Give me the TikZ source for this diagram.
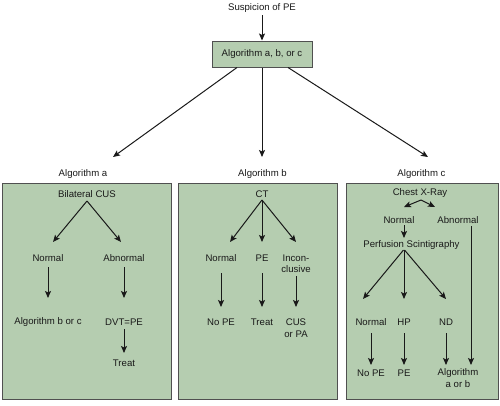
\documentclass[tikz,border=0pt]{standalone}
\usepackage{fontspec}
\setmainfont{Liberation Sans}
\usetikzlibrary{arrows.meta,calc}
\definecolor{sage}{RGB}{181,205,176}
\definecolor{edgegray}{RGB}{80,80,80}
\definecolor{ink}{RGB}{25,25,25}
\begin{document}
\begin{tikzpicture}[x=1pt,y=-1pt,
  lbl/.style={inner sep=0pt, text=ink, font=\fontsize{9.6}{11.5}\selectfont, align=center},
  arr/.style={draw=ink, line width=1pt, -{Stealth[length=7pt,width=6pt,inset=1.5pt]}},
  panel/.style={draw=edgegray, line width=1pt, fill=sage, inner sep=0pt, minimum height=216pt},
  topbox/.style={draw=edgegray, line width=1pt, fill=sage, inner sep=0pt, minimum width=100pt, minimum height=26pt, text=ink, font=\fontsize{9.6}{11.5}\selectfont}]
\useasboundingbox (0,0) rectangle (500,405);
% panels
\node[panel, minimum width=169pt] (pa) at (86.5,291) {};
\node[panel, minimum width=159pt] (pb) at (257.5,291) {};
\node[panel, minimum width=152pt] (pc) at (422,291) {};
% top
\node[lbl] (sus) at (262,8) {Suspicion of PE};
\node[topbox] (top) at (262,54) {Algorithm a, b, or c};
\node[lbl] (la) at (83,174) {Algorithm a};
\node[lbl] (lb) at (262.5,174) {Algorithm b};
\node[lbl] (lc) at (421.5,174) {Algorithm c};
\draw[arr] ($(sus)+(0,7)$) -- (top.north);
\draw[arr] ($(top.south)+(-25,0)$) -- ($(la)+(30,-17)$);
\draw[arr] (top.south) -- ($(lb)+(-0.5,-17)$);
\draw[arr] ($(top.south)+(26,0)$) -- ($(lc)+(6.5,-17)$);
% panel a
\node[lbl] (a0) at (87,194) {Bilateral CUS};
\node[lbl] (a1) at (48,258) {Normal};
\node[lbl] (a2) at (124,258) {Abnormal};
\node[lbl] (a3) at (48,322) {Algorithm b or c};
\node[lbl] (a4) at (124,322) {DVT=PE};
\node[lbl] (a5) at (124,363) {Treat};
\draw[arr] ($(a0)+(0,7)$) -- ($(a1)+(5,-16)$);
\draw[arr] ($(a0)+(0,7)$) -- ($(a2)+(-3,-16)$);
\draw[arr] ($(a1)+(0,9)$) -- ($(a3)+(0,-24)$);
\draw[arr] ($(a2)+(0,9)$) -- ($(a4)+(0,-24)$);
\draw[arr] ($(a4)+(0,7)$) -- ($(a5)+(0,-10)$);
% panel b
\node[lbl] (b0) at (262,194) {CT};
\node[lbl] (b1) at (221,258) {Normal};
\node[lbl] (b2) at (262,258) {PE};
\node[lbl] (b3) at (296,263.5) {Incon-\\clusive};
\node[lbl] (b4) at (221,322) {No PE};
\node[lbl] (b5) at (262,322) {Treat};
\node[lbl] (b6) at (296,328) {CUS\\or PA};
\draw[arr] ($(b0)+(0,6)$) -- ($(b1)+(9,-16)$);
\draw[arr] ($(b0)+(0,6)$) -- ($(b2)+(0,-16)$);
\draw[arr] ($(b0)+(0,6)$) -- ($(b3)+(0,-21.5)$);
\draw[arr] ($(b1)+(0,15)$) -- ($(b4)+(0,-15)$);
\draw[arr] ($(b2)+(0,15)$) -- ($(b5)+(0,-15)$);
\draw[arr] ($(b3)+(0,12.5)$) -- ($(b6)+(0,-21)$);
% panel c
\node[lbl] (c0) at (420,193) {Chest X-Ray};
\node[lbl] (c1) at (399,220) {Normal};
\node[lbl] (c2) at (458,220) {Abnormal};
\node[lbl] (c3) at (411.5,245) {Perfusion Scintigraphy};
\node[lbl] (c4) at (371,322) {Normal};
\node[lbl] (c5) at (404,322) {HP};
\node[lbl] (c6) at (446,322) {ND};
\node[lbl] (c7) at (371,373) {No PE};
\node[lbl] (c8) at (404,373) {PE};
\node[lbl] (c9) at (458,378) {Algorithm\\a or b};
\draw[arr] ($(c0)+(1,7)$) -- ($(c1)+(5,-13)$);
\draw[arr] ($(c0)+(1,7)$) -- ($(c2)+(-23,-13)$);
\draw[arr] ($(c1)+(5,5)$) -- ($(c3)+(-7.5,-7)$);
\draw[arr] ($(c3)+(-8,5)$) -- ($(c4)+(-8,-23)$);
\draw[arr] ($(c3)+(-7.5,5)$) -- ($(c5)+(0,-23)$);
\draw[arr] ($(c3)+(-7,5)$) -- ($(c6)+(0,-23)$);
\draw[arr] ($(c4)+(0,11)$) -- ($(c7)+(0,-8)$);
\draw[arr] ($(c5)+(0,11)$) -- ($(c8)+(0,-8)$);
\draw[arr] ($(c6)+(0,11)$) -- ($(c9)+(-12,-13)$);
\draw[arr] ($(c2)+(13,6)$) -- ($(c9)+(13,-13)$);
\end{tikzpicture}
\end{document}
